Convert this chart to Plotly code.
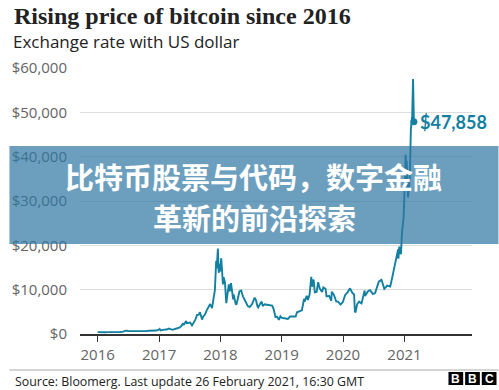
import plotly.graph_objects as go

dates = [
    "2016-01-01","2016-01-15","2016-02-01","2016-02-15","2016-03-01","2016-03-15","2016-04-01","2016-04-15",
    "2016-05-01","2016-05-15","2016-06-01","2016-06-16","2016-07-01","2016-07-15","2016-08-01","2016-08-15",
    "2016-09-01","2016-09-15","2016-10-01","2016-10-15","2016-11-01","2016-11-15","2016-12-01","2016-12-15",
    "2016-12-31",
    "2017-01-04","2017-01-11","2017-01-20","2017-02-01","2017-02-15","2017-03-01","2017-03-10","2017-03-24",
    "2017-04-05","2017-04-20","2017-05-01","2017-05-12","2017-05-24","2017-05-27","2017-06-06","2017-06-11",
    "2017-06-15","2017-06-25","2017-07-05","2017-07-16","2017-07-25","2017-08-05","2017-08-15","2017-08-25",
    "2017-09-01","2017-09-14","2017-09-20","2017-10-01","2017-10-12","2017-10-20","2017-11-01","2017-11-12",
    "2017-11-20","2017-11-29","2017-12-07","2017-12-10","2017-12-17","2017-12-22","2017-12-27","2017-12-31",
    "2018-01-06","2018-01-11","2018-01-16","2018-01-20","2018-01-28","2018-02-05","2018-02-10","2018-02-20",
    "2018-02-26","2018-03-05","2018-03-18","2018-03-21","2018-04-01","2018-04-06","2018-04-15","2018-04-24",
    "2018-05-05","2018-05-15","2018-05-29","2018-06-13","2018-06-24","2018-07-08","2018-07-24","2018-08-01",
    "2018-08-10","2018-08-14","2018-08-28","2018-09-04","2018-09-10","2018-09-21","2018-10-05","2018-10-20",
    "2018-11-05","2018-11-14","2018-11-20","2018-11-25","2018-12-04","2018-12-15","2018-12-24","2018-12-31",
    "2019-01-10","2019-01-20","2019-02-07","2019-02-20","2019-03-10","2019-03-25","2019-04-02","2019-04-20",
    "2019-05-01","2019-05-14","2019-05-17","2019-05-30","2019-06-06","2019-06-16","2019-06-26","2019-07-02",
    "2019-07-10","2019-07-17","2019-07-28","2019-08-06","2019-08-15","2019-08-29","2019-09-06","2019-09-19",
    "2019-09-25","2019-10-10","2019-10-23","2019-10-26","2019-11-08","2019-11-22","2019-12-03","2019-12-17",
    "2019-12-31",
    "2020-01-14","2020-01-28","2020-02-12","2020-02-25","2020-03-07","2020-03-12","2020-03-16","2020-03-25",
    "2020-04-06","2020-04-20","2020-04-30","2020-05-09","2020-05-11","2020-05-30","2020-06-10","2020-06-27",
    "2020-07-10","2020-07-27","2020-08-01","2020-08-17","2020-09-03","2020-09-20","2020-10-08","2020-10-21",
    "2020-11-05","2020-11-17","2020-11-24","2020-11-26","2020-12-01","2020-12-11","2020-12-17","2020-12-27",
    "2021-01-02","2021-01-08","2021-01-11","2021-01-14","2021-01-22","2021-01-28","2021-02-02","2021-02-08",
    "2021-02-12","2021-02-16","2021-02-21","2021-02-23","2021-02-26",
]
prices = [
    430,380,375,405,430,415,415,430,
    450,455,535,750,675,665,605,570,
    575,610,615,640,730,715,755,780,
    960,
    1140,780,895,985,1010,1225,1100,935,
    1130,1230,1420,1720,2450,2050,2870,2950,
    2450,2550,2600,1930,2550,3230,4300,4350,
    4900,3250,3900,4400,5400,6000,6750,5850,
    8100,9900,16500,14800,19300,13800,15800,14100,
    17100,13400,11200,12800,11700,6950,8100,11200,
    9600,11500,7800,8900,6900,6600,8000,9600,
    9800,8500,7450,6300,6100,6700,8200,7600,
    6200,6000,7000,7300,6300,6700,6600,6450,
    6400,5600,4500,3800,3900,3200,4000,3700,
    3600,3550,3400,3950,3900,3950,4900,5300,
    5350,7900,7300,8600,7700,8900,12900,10700,
    12300,9400,9500,11700,10300,9500,10500,10200,
    8500,8600,7500,9550,8800,7300,7300,6650,
    7200,
    8800,9400,10300,9300,8900,4900,5000,6700,
    7300,6900,8650,9800,8600,9700,9900,9000,
    9250,11000,11800,12250,10200,10900,10700,12900,
    15600,17700,19100,17000,19700,18000,22800,26300,
    32000,40500,34000,39100,30800,33300,35500,46200,
    47500,49200,57500,48900,47858,
]

latest_date = "2021-02-26"
latest_price = 47858
latest_label = "$47,858"

year_ticks = ["2016-01-01","2017-01-01","2018-01-01","2019-01-01","2020-01-01","2021-01-01"]
year_labels = ["2016","2017","2018","2019","2020","2021"]
y_ticks = [0, 10000, 20000, 30000, 40000, 50000, 60000]
y_labels = ["$0", "$10,000", "$20,000", "$30,000", "$40,000", "$50,000", "$60,000"]

title = "Rising price of bitcoin since 2016"
subtitle = "Exchange rate with US dollar"
source = "Source: Bloomerg. Last update 26 February 2021, 16:30 GMT"
banner_lines = ["比特币股票与代码，数字金融", "革新的前沿探索"]

LINE = "#1380A1"
W, H = 499, 390
L, R, T, B = 72, 27, 68, 56
PW, PH = W - L - R, H - T - B

def px(x):
    return (x - L) / PW

def py(y):
    return (H - B - y) / PH

fig = go.Figure()
fig.add_trace(go.Scatter(x=dates, y=prices, mode="lines",
                         line=dict(color=LINE, width=1.9), hoverinfo="skip"))
fig.add_trace(go.Scatter(x=[latest_date], y=[latest_price], mode="markers",
                         marker=dict(color=LINE, size=7), hoverinfo="skip"))

annotations = [
    dict(text=latest_label, x=latest_date, y=latest_price, xref="x", yref="y",
         xanchor="left", yanchor="middle", xshift=4, showarrow=False,
         font=dict(family="Lato", size=18, color=LINE, weight="bold")),
    dict(text=title, x=px(3), y=py(16), xref="paper", yref="paper", xanchor="left",
         yanchor="middle", showarrow=False,
         font=dict(family="Liberation Serif", size=24, color="#222222", weight="bold")),
    dict(text=subtitle, x=px(2), y=py(42), xref="paper", yref="paper", xanchor="left",
         yanchor="middle", showarrow=False,
         font=dict(family="Open Sans", size=17, color="#222222")),
    dict(text=source, x=px(4), y=py(381), xref="paper", yref="paper", xanchor="left",
         yanchor="middle", showarrow=False,
         font=dict(family="Open Sans", size=12.4, color="#222222")),
    dict(text=banner_lines[0], x=px(249), y=py(176), xref="paper", yref="paper",
         xanchor="center", yanchor="middle", showarrow=False,
         font=dict(family="Noto Sans CJK SC", size=29, color="white", weight="bold")),
    dict(text=banner_lines[1], x=px(250), y=py(217), xref="paper", yref="paper",
         xanchor="center", yanchor="middle", showarrow=False,
         font=dict(family="Noto Sans CJK SC", size=29, color="white", weight="bold")),
]

shapes = [
    dict(type="rect", xref="paper", yref="paper", x0=px(0), x1=px(W), y0=py(244), y1=py(146),
         fillcolor="rgba(45,118,163,0.7)", line=dict(width=0), layer="above"),
    dict(type="line", xref="paper", yref="paper", x0=px(0), x1=px(W), y0=py(370), y1=py(370),
         line=dict(color="#aaaaaa", width=1)),
]
for i, letter in enumerate("BBC"):
    x0 = 448 + i * 17
    shapes.append(dict(type="rect", xref="paper", yref="paper", x0=px(x0), x1=px(x0 + 15),
                       y0=py(385), y1=py(372), fillcolor="#000000", line=dict(width=0)))
    annotations.append(dict(text=letter, x=px(x0 + 7.5), y=py(378.5), xref="paper", yref="paper",
                            xanchor="center", yanchor="middle", showarrow=False,
                            font=dict(family="Liberation Sans", size=12, color="white", weight="bold")))

fig.update_layout(
    width=W, height=H, margin=dict(l=L, r=R, t=T, b=B),
    paper_bgcolor="white", plot_bgcolor="white", showlegend=False,
    annotations=annotations, shapes=shapes,
    xaxis=dict(type="date", range=["2015-09-18", "2022-02-07"], tickvals=year_ticks,
               ticktext=year_labels, showgrid=False, zeroline=False, showline=True,
               linecolor="#333333", linewidth=2, ticks="outside", ticklen=6,
               tickcolor="#333333", tickwidth=1,
               tickfont=dict(family="Open Sans", size=15, color="#646464")),
    yaxis=dict(range=[0, 60000], tickvals=y_ticks, ticktext=y_labels,
               showgrid=True, gridcolor="#dddddd", gridwidth=1, zeroline=False,
               showline=False, ticks="", ticklabelstandoff=12,
               tickfont=dict(family="Open Sans", size=15, color="#646464")),
)

fig.write_html("out.html", config={"displayModeBar": False},
               post_script="document.body.style.margin='0';")
